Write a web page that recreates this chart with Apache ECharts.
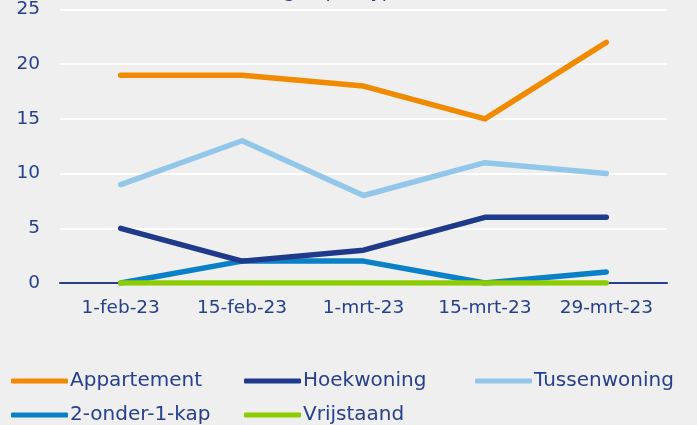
<!DOCTYPE html>
<html>
<head>
<meta charset="utf-8">
<script src="https://cdn.jsdelivr.net/npm/echarts@6/dist/echarts.min.js"></script>
<style>
  html, body { margin: 0; padding: 0; background: #efefef; }
  #chart { width: 697px; height: 425px; }
</style>
</head>
<body>
<div id="chart"></div>
<script>
// data
var categories = ['1-feb-23', '15-feb-23', '1-mrt-23', '15-mrt-23', '29-mrt-23'];
var appartement = [19, 19, 18, 15, 22];
var hoekwoning = [5, 2, 3, 6, 6];
var tussenwoning = [9, 13, 8, 11, 10];
var tweeOnder1Kap = [0, 2, 2, 0, 1];
var vrijstaand = [0, 0, 0, 0, 0];

var textColor = '#25408f';
var font = 'DejaVu Sans';

function makeLine(name, data, color, z) {
  return {
    name: name,
    type: 'line',
    data: data,
    symbol: 'none',
    z: z,
    lineStyle: { width: 5.5, color: color, cap: 'round', join: 'round' },
    itemStyle: { color: color }
  };
}

function legendAt(name, left, top) {
  return {
    data: [name],
    left: left,
    top: top,
    itemWidth: 57,
    itemHeight: 5,
    itemGap: 0,
    icon: 'roundRect',
    selectedMode: false,
    textStyle: { color: textColor, fontSize: 20, fontFamily: font, padding: [0, 0, 0, -3] }
  };
}

var chart = echarts.init(document.getElementById('chart'));
chart.setOption({
  backgroundColor: '#efefef',
  animation: false,
  title: {
    text: 'Aantal woningen per type',
    left: 155,
    top: -22,
    textStyle: { color: textColor, fontSize: 19, fontWeight: 'normal', fontFamily: font }
  },
  grid: { left: 60, right: 30, top: 3, bottom: 142 },
  legend: [
    legendAt('Appartement', 6, 366),
    legendAt('Hoekwoning', 239, 366),
    legendAt('Tussenwoning', 470, 366),
    legendAt('2-onder-1-kap', 6, 400),
    legendAt('Vrijstaand', 239, 400)
  ],
  xAxis: {
    type: 'category',
    data: categories,
    boundaryGap: true,
    axisLine: { lineStyle: { color: '#25408f', width: 2 } },
    axisTick: { show: false },
    axisLabel: { color: textColor, fontSize: 18.5, fontFamily: font, margin: 16 }
  },
  yAxis: {
    type: 'value',
    min: 0,
    max: 25,
    interval: 5,
    axisLine: { show: false },
    axisTick: { show: false },
    axisLabel: { color: textColor, fontSize: 18.5, fontFamily: font, margin: 20 },
    splitLine: { lineStyle: { color: '#ffffff', width: 2 } }
  },
  series: [
    makeLine('Appartement', appartement, '#f28a00', 5),
    makeLine('Hoekwoning', hoekwoning, '#1f3a8a', 4),
    makeLine('Tussenwoning', tussenwoning, '#92c7ea', 3),
    makeLine('2-onder-1-kap', tweeOnder1Kap, '#0a80c8', 2),
    makeLine('Vrijstaand', vrijstaand, '#8dcc00', 6)
  ]
});
</script>
</body>
</html>
